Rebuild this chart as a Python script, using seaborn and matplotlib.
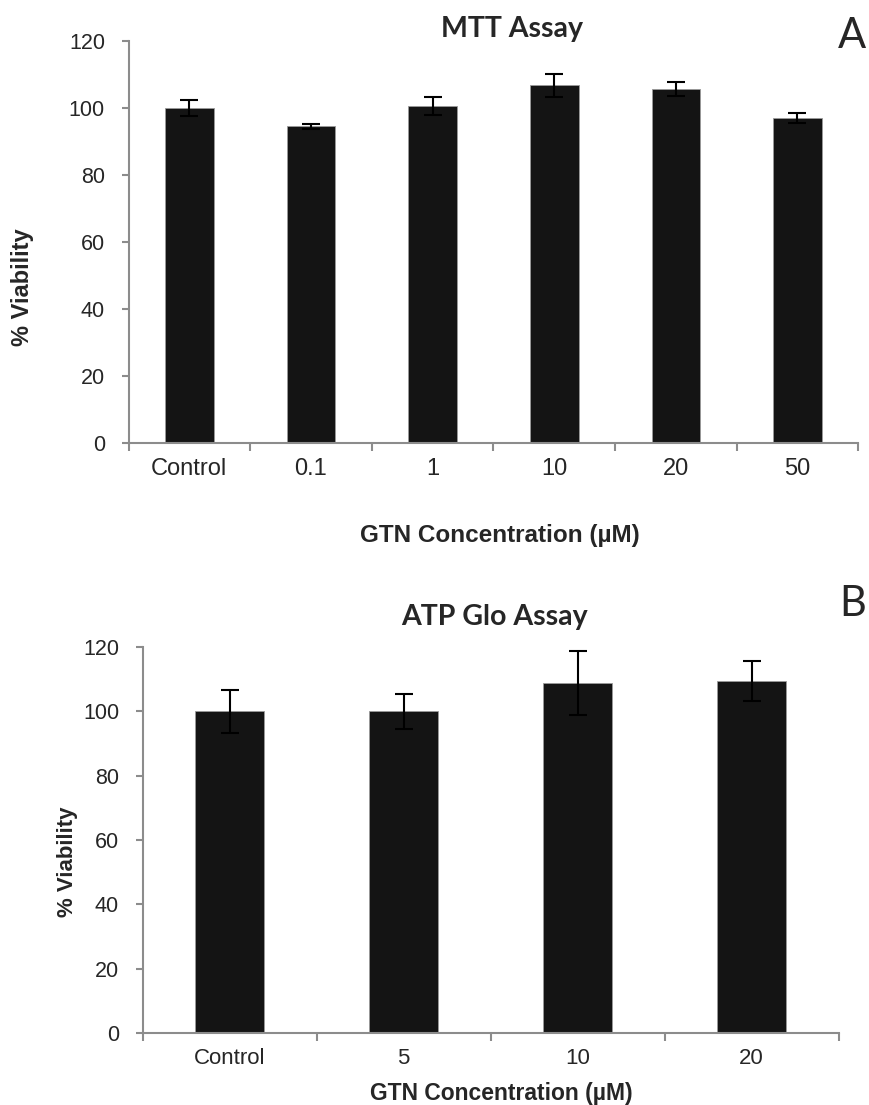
import pandas as pd
import matplotlib.pyplot as plt
import seaborn as sns
from matplotlib.ticker import FixedLocator

sns.set_style('white')
plt.rcParams['font.family'] = ['Liberation Sans', 'DejaVu Sans']

# MTT assay data
mtt_labels = ['Control', '0.1', '1', '10', '20', '50']
mtt_mean = [100.0, 94.4, 100.6, 106.7, 105.5, 96.9]
mtt_err = [2.4, 0.7, 2.7, 3.4, 2.1, 1.5]

# ATP Glo assay data
atp_labels = ['Control', '5', '10', '20']
atp_mean = [100.0, 100.0, 108.9, 109.4]
atp_err = [6.7, 5.4, 10.0, 6.3]

bar_color = '#141414'
spine_color = '#8c8c8c'
title_font = ['Lato', 'DejaVu Sans']

fig = plt.figure(figsize=(8.69, 11.05), dpi=100)
ax1 = fig.add_axes([0.1479, 0.5994, 0.8398, 0.3638])
ax2 = fig.add_axes([0.1642, 0.0652, 0.8009, 0.3493])


def draw_panel(ax, labels, mean, err, xtick_size, xpad):
    df = pd.DataFrame({'conc': labels, 'viability': mean})
    sns.barplot(data=df, x='conc', y='viability', order=labels, color=bar_color,
                saturation=1, width=0.4, edgecolor='#9a9a9a', linewidth=0.6,
                errorbar=None, ax=ax)
    ax.errorbar(range(len(labels)), mean, yerr=err, fmt='none', ecolor='black',
                elinewidth=1.5, capsize=6.5, capthick=1.5, zorder=3)
    ax.set_ylim(0, 120)
    ax.set_xlim(-0.5, len(labels) - 0.5)
    ax.set_yticks(range(0, 121, 20))
    ax.set_xlabel('')
    ax.set_ylabel('')
    for side in ['top', 'right']:
        ax.spines[side].set_visible(False)
    for side in ['left', 'bottom']:
        ax.spines[side].set_color(spine_color)
        ax.spines[side].set_linewidth(1.5)
    ax.tick_params(axis='y', which='major', direction='out', length=5, width=1.5,
                   color=spine_color, pad=12, labelsize=15.5, left=True)
    ax.tick_params(axis='x', which='major', length=0, pad=xpad, labelsize=xtick_size)
    ax.xaxis.set_minor_locator(FixedLocator([i - 0.5 for i in range(len(labels) + 1)]))
    ax.tick_params(axis='x', which='minor', direction='out', length=6, width=1.5,
                   color=spine_color, bottom=True)


draw_panel(ax1, mtt_labels, mtt_mean, mtt_err, 17, 11)
draw_panel(ax2, atp_labels, atp_mean, atp_err, 16, 10.5)

H = 1105
W = 869

# Titles and panel letters
fig.text(512 / W, 1 - 37 / H, 'MTT Assay', ha='center', va='baseline',
         fontsize=20.5, fontweight='bold', family=title_font)
fig.text(494 / W, 1 - 625 / H, 'ATP Glo Assay', ha='center', va='baseline',
         fontsize=20.5, fontweight='bold', family=title_font)
fig.text(852 / W, 1 - 48 / H, 'A', ha='center', va='baseline', fontsize=30,
         family=title_font)
fig.text(853 / W, 1 - 616 / H, 'B', ha='center', va='baseline', fontsize=30,
         family=title_font)

# Axis labels
fig.text(500 / W, 1 - 542 / H, 'GTN Concentration (µM)', ha='center', va='baseline',
         fontsize=17.5, fontweight='bold')
fig.text(501 / W, 1 - 1100 / H, 'GTN Concentration (µM)', ha='center', va='baseline',
         fontsize=16.5, fontweight='bold')
fig.text(23 / W, 1 - 287 / H, '% Viability', ha='center', va='center', rotation=90,
         fontsize=17, fontweight='bold')
fig.text(67 / W, 1 - 862 / H, '% Viability', ha='center', va='center', rotation=90,
         fontsize=16, fontweight='bold')

fig.savefig('out.png', dpi=100, facecolor='white')
